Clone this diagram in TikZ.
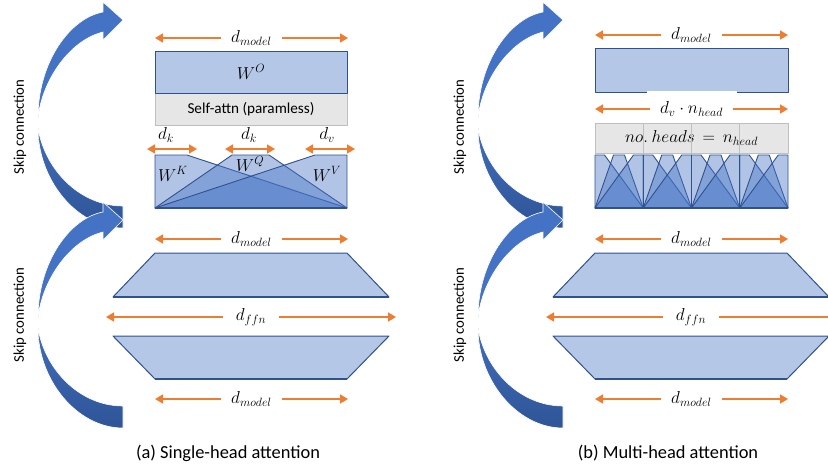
\documentclass[tikz,border=0pt]{standalone}
\usepackage{fontspec}
\setmainfont{Carlito}
\usetikzlibrary{arrows.meta,calc}
\definecolor{wblue}{HTML}{4472C4}
\definecolor{wdark}{HTML}{2F5597}
\definecolor{wedge}{HTML}{2F528F}
\definecolor{wfill}{HTML}{B4C7E7}
\definecolor{dimorange}{HTML}{ED7D31}
\definecolor{attngray}{HTML}{E7E6E6}
\definecolor{attnedge}{HTML}{BFBFBF}

\begin{document}
\begin{tikzpicture}[
  x=1pt,y=-1pt,
  dim/.style={{Triangle[length=8pt,width=9pt]}-{Triangle[length=8pt,width=9pt]},draw=dimorange,line width=1.6pt},
  dimlbl/.style={fill=white,inner xsep=10pt,inner ysep=1pt,font=\fontsize{16.5}{19}\selectfont},
  toplbl/.style={inner sep=1pt,font=\fontsize{16.5}{19}\selectfont},
  wbox/.style={draw=wedge,line width=1pt,fill=wfill,line join=round},
  wnode/.style={wbox,anchor=north west,outer sep=0pt,minimum width=192pt,font=\fontsize{17}{20}\selectfont},
  proj/.style={draw=wedge,line width=0.9pt,line join=round,fill=wblue,fill opacity=0.42},
  attn/.style={draw=attnedge,line width=0.8pt,fill=attngray,anchor=north west,outer sep=0pt,minimum width=192pt},
  skipup/.style={fill=wblue,draw=white,line width=0.6pt},
  skipdown/.style={top color=wblue!80!wdark,bottom color=wdark,draw=white,line width=0.6pt},
  skiplbl/.style={rotate=90,font=\fontsize{14.8}{17}\selectfont},
  caption/.style={font=\fontsize{18.4}{22}\selectfont}
]
\useasboundingbox (0,0) rectangle (828,467);
\clip (0,0) rectangle (828,467);

\foreach \sx/\sy in {0/0,0/200,440/0,440/200} {
  \begin{scope}[shift={(\sx,\sy)}]
    \path[skipdown] (38,128) .. controls (45,170) and (80,206) .. (123,206)
      -- (123,228) .. controls (77,228) and (38,180) .. (38,128) -- cycle;
    \path[skipup] (38,118) .. controls (38,62) and (70,18) .. (103,12)
      -- (103,2) -- (123,20) -- (103,40) -- (103,32)
      .. controls (70,40) and (42,80) .. (38,118) -- cycle;
  \end{scope}
}
\node[skiplbl] (skipa1) at (20,127) {Skip connection};
\node[skiplbl] (skipa2) at (20,315) {Skip connection};
\node[skiplbl] (skipb1) at (460,127) {Skip connection};
\node[skiplbl] (skipb2) at (460,315) {Skip connection};

\coordinate (ao-l) at (155,38);
\coordinate (ao-r) at (348,38);
\draw[dim] (ao-l) -- (ao-r) node[dimlbl,midway] (ao-d) {$d_{model}$};
\node[attn,minimum height=32pt,font=\fontsize{15.2}{18}\selectfont] (sa) at (155,93) {Self-attn (paramless)};
\node[wnode,minimum height=42pt] (wo) at (155,51) {$W^{O}$};

\coordinate (dk1-l) at (147,149);
\coordinate (dk1-r) at (197,149);
\coordinate (dk2-l) at (225,149);
\coordinate (dk2-r) at (275,149);
\coordinate (dv-l) at (305,149);
\coordinate (dv-r) at (355,149);
\draw[dim] (dk1-l) -- (dk1-r);
\draw[dim] (dk2-l) -- (dk2-r);
\draw[dim] (dv-l) -- (dv-r);
\node[toplbl] (dk1) at (166,135) {$d_k$};
\node[toplbl] (dk2) at (249,135) {$d_k$};
\node[toplbl] (dv) at (327,135) {$d_v$};

\path[proj] (155,155) -- (187,155) -- (347,208) -- (155,208) -- cycle;
\path[proj] (232,155) -- (269,155) -- (347,208) -- (155,208) -- cycle;
\path[proj] (315,155) -- (347,155) -- (347,208) -- (155,208) -- cycle;
\draw[wedge,line width=2pt] (155,208) -- (347,208);
\node[toplbl] (wk) at (173,174) {$W^{K}$};
\node[toplbl] (wq) at (250,164) {$W^{Q}$};
\node[toplbl] (wv) at (327,174) {$W^{V}$};

\coordinate (bo-l) at (595,35);
\coordinate (bo-r) at (788,35);
\draw[dim] (bo-l) -- (bo-r) node[dimlbl,midway] (bo-d) {$d_{model}$};
\node[wnode,minimum width=193pt,minimum height=44pt] (wob) at (595,48) {};
\fill[white] (647,90.5) rectangle (737,94);
\coordinate (nh-l) at (595,109);
\coordinate (nh-r) at (788,109);
\draw[dim] (nh-l) -- (nh-r) node[dimlbl,midway] (nh-d) {$d_v\cdot n_{head}$};
\node[attn,minimum width=193pt,minimum height=30pt,font=\fontsize{16.5}{19}\selectfont] (heads) at (595,123) {$no.\ heads\,=\,n_{head}$};
\foreach \h in {1,2,3}
  \draw[attnedge,line width=1pt] ({595+48.25*\h},123) -- ({595+48.25*\h},153);
\foreach \h in {0,1,2,3} {
  \pgfmathsetmacro\hx{595+48.25*\h}
  \path[proj] (\hx,155) -- ({\hx+9.5},155) -- ({\hx+48.25},208) -- (\hx,208) -- cycle;
  \path[proj] ({\hx+18.5},155) -- ({\hx+29.5},155) -- ({\hx+48.25},208) -- (\hx,208) -- cycle;
  \path[proj] ({\hx+38.5},155) -- ({\hx+48.25},155) -- ({\hx+48.25},208) -- (\hx,208) -- cycle;
}
\foreach \h in {1,2,3}
  \draw[wedge,line width=1.3pt] ({595+48.25*\h},155) -- ({595+48.25*\h},208);
\draw[wedge,line width=2pt] (595,208) -- (788,208);

\foreach \px/\p in {0/a,440/b} {
  \begin{scope}[shift={(\px,0)}]
    \coordinate (\p-in-l) at (155,239);
    \coordinate (\p-in-r) at (348,239);
    \draw[dim] (\p-in-l) -- (\p-in-r) node[dimlbl,midway] (\p-in-d) {$d_{model}$};
    \path[wbox] (155,253) -- (347,253) -- (389,297) -- (113,297) -- cycle;
    \draw[wedge,line width=1.6pt] (113,297) -- (389,297);
    \coordinate (\p-ffn-l) at (106,317);
    \coordinate (\p-ffn-r) at (396,317);
    \draw[dim] (\p-ffn-l) -- (\p-ffn-r) node[dimlbl,midway,inner xsep=13pt] (\p-ffn-d) {$d_{ffn}$};
    \path[wbox] (113,336) -- (389,336) -- (347,379) -- (155,379) -- cycle;
    \draw[wedge,line width=1.6pt] (155,379) -- (347,379);
    \coordinate (\p-out-l) at (155,399);
    \coordinate (\p-out-r) at (348,399);
    \draw[dim] (\p-out-l) -- (\p-out-r) node[dimlbl,midway] (\p-out-d) {$d_{model}$};
  \end{scope}
}

\node[caption] (capa) at (228,453) {(a) Single-head attention};
\node[caption] (capb) at (668,453) {(b) Multi-head attention};
\end{tikzpicture}
\end{document}
